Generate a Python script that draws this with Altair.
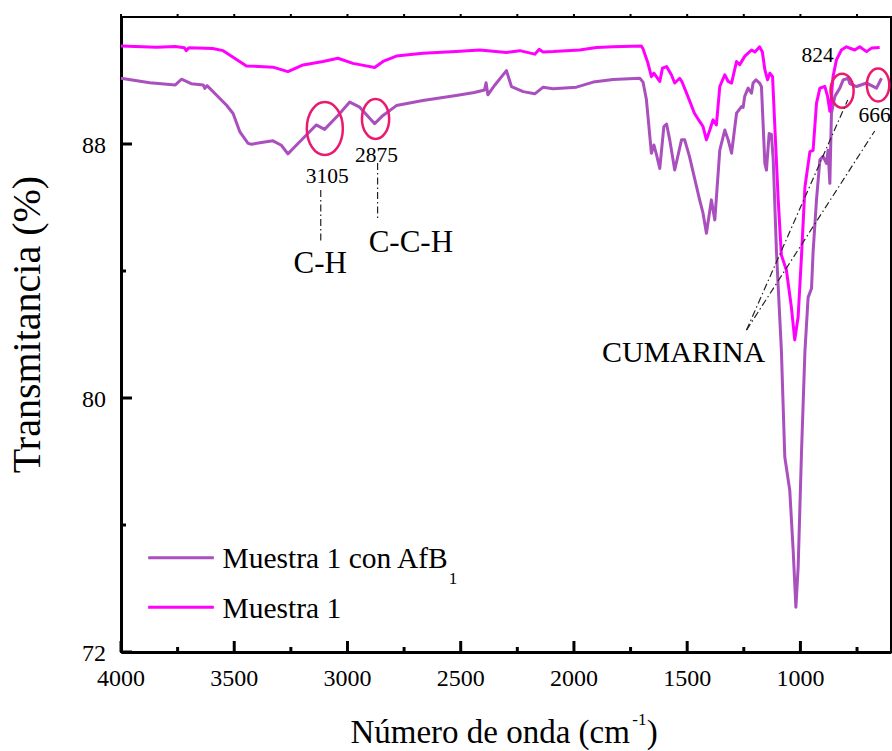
import altair as alt
import pandas as pd

SERIF = "Liberation Serif"

# ---------------- FTIR spectra ----------------
wn_afb1 = [4000, 3873, 3760, 3733, 3690, 3637, 3630, 3620, 3534, 3505, 3475, 3439, 3424,
           3380, 3329, 3292, 3263, 3226, 3138, 3101, 3042, 2990, 2946, 2880, 2843, 2784,
           2667, 2520, 2440, 2395, 2388, 2380, 2349, 2298, 2276, 2224, 2173, 2136, 2092,
           1989, 1915, 1827, 1709, 1695, 1680, 1658, 1647, 1635, 1621, 1603, 1591, 1577,
           1555, 1525, 1511, 1490, 1445, 1430, 1415, 1393, 1378, 1356, 1334, 1319, 1304,
           1282, 1260, 1253, 1246, 1231, 1216, 1209, 1196, 1180, 1172, 1157, 1150, 1138,
           1128, 1120, 1106, 1084, 1069, 1047, 1032, 1020, 1010, 995, 980, 966, 951, 944,
           929, 914, 900, 885, 878, 870, 863, 848, 826, 811, 789, 782, 752, 708, 664, 642]
tr_afb1 = [90.07, 89.93, 89.86, 90.04, 89.90, 89.86, 89.75, 89.84, 89.22, 88.96, 88.38, 88.02, 87.99,
           88.05, 88.10, 87.96, 87.69, 87.96, 88.60, 88.46, 88.90, 89.32, 89.16, 88.64, 88.90, 89.21,
           89.37, 89.53, 89.62, 89.70, 89.93, 89.55, 89.86, 90.31, 89.81, 89.65, 89.58, 89.79, 89.74,
           89.79, 89.95, 90.03, 90.07, 89.95, 89.40, 87.71, 87.97, 87.65, 87.23, 88.55, 88.63, 88.13,
           87.18, 88.13, 88.13, 87.61, 86.24, 85.82, 85.19, 86.24, 85.61, 87.81, 88.44, 88.13, 87.71,
           88.97, 89.18, 89.15, 89.50, 89.76, 89.60, 89.92, 90.02, 89.92, 89.80, 87.39, 87.18, 88.33,
           88.30, 87.50, 84.65, 81.50, 78.14, 77.09, 75.20, 73.41, 74.67, 78.33, 81.48, 83.17, 83.45, 84.60,
           86.24, 87.50, 87.61, 87.39, 87.80, 86.76, 88.97, 89.50, 89.76, 90.02, 90.07, 89.90, 89.81,
           89.92, 89.76, 90.07]

wn_m1 = [4000, 3843, 3760, 3720, 3712, 3700, 3595, 3549, 3505, 3446, 3329, 3263, 3196, 3108,
         3042, 2976, 2917, 2880, 2843, 2784, 2667, 2520, 2416, 2298, 2239, 2173, 2154, 2136,
         2092, 1975, 1900, 1827, 1703, 1695, 1673, 1658, 1647, 1621, 1609, 1591, 1570, 1555,
         1533, 1523, 1497, 1468, 1445, 1430, 1415, 1400, 1386, 1371, 1356, 1334, 1319, 1304,
         1282, 1268, 1246, 1231, 1216, 1201, 1180, 1168, 1157, 1145, 1135, 1123, 1113, 1098,
         1084, 1062, 1040, 1025, 1010, 995, 980, 958, 944, 929, 914, 892, 880, 870, 863, 856,
         841, 819, 797, 760, 738, 708, 686, 650]
tr_m1 = [91.09, 91.05, 91.07, 91.03, 90.94, 91.03, 91.01, 90.94, 90.73, 90.46, 90.42, 90.28, 90.49, 90.60,
         90.70, 90.54, 90.46, 90.41, 90.60, 90.77, 90.86, 90.91, 90.96, 90.88, 90.94, 90.83, 90.98, 90.90,
         90.91, 90.96, 91.04, 91.06, 91.09, 91.00, 90.54, 90.12, 90.23, 89.97, 90.39, 90.44, 90.18, 89.92,
         90.07, 89.96, 89.50, 88.97, 88.71, 88.55, 88.13, 88.44, 88.76, 88.60, 89.81, 90.18, 89.97, 89.92,
         90.60, 90.50, 90.76, 90.86, 90.96, 90.90, 91.06, 90.90, 90.34, 90.02, 90.23, 90.12, 88.55, 86.24,
         84.50, 84.03, 82.87, 81.83, 82.56, 84.50, 86.65, 87.76, 87.80, 89.28, 89.76, 89.81, 89.50, 89.03,
         89.50, 90.12, 90.65, 90.96, 91.06, 90.96, 91.06, 90.91, 91.02, 91.04]

series_names = ["Muestra 1 con AfB1", "Muestra 1"]
series_colors = ["#AA4FBE", "#FF00FF"]

# ---------------- axis ticks ----------------
x_major = [1000, 1500, 2000, 2500, 3000, 3500, 4000]
x_minor = [750, 1250, 1750, 2250, 2750, 3250, 3750]
y_major = [72, 80, 88]
y_minor = [76, 84]

# ---------------- annotations ----------------
ring_wn = [3100, 2876, 816, 657]
ring_t = [88.49, 88.79, 89.68, 89.86]
ring_h = [53, 40, 34, 33]

label_text = ["3105", "2875", "824", "666"]
label_wn = [3089, 2872, 924, 672]
label_t = [86.78, 87.43, 90.57, 88.70]

group_text = ["C-H", "C-C-H", "CUMARINA"]
group_wn = [3120, 2720, 1516]
group_t = [83.93, 84.61, 81.14]

lead_wn = [3118, 2867, 1238, 1238]
lead_t = [86.55, 87.40, 82.14, 82.14]
lead_wn2 = [3118, 2867, 791, 672]
lead_t2 = [84.88, 85.65, 89.39, 88.41]

legend_wn = [3880, 3590]
legend_t = [74.97, 73.41]
legend_text_wn = 3552
legend_text_t = [74.64, 73.06]

# ---------------- frames ----------------
rows = []
for name, xs, ys in zip(series_names, [wn_afb1, wn_m1], [tr_afb1, tr_m1]):
    for i, (a, b) in enumerate(zip(xs, ys)):
        rows.append({"serie": name, "wn": a, "t": b, "i": i})
spec = pd.DataFrame(rows)

x_scale = alt.Scale(domain=[600, 4000], reverse=True, nice=False, zero=False)
y_scale = alt.Scale(domain=[72, 92], nice=False, zero=False)

x_axis = alt.Axis(values=x_major, ticks=False, tickSize=0, grid=False, labels=False,
                  domain=True, domainWidth=3, domainColor="black", title=None)
y_axis = alt.Axis(values=y_major, ticks=False, tickSize=0, grid=False, labels=False,
                  domain=True, domainWidth=3, domainColor="black",
                  title="Transmitancia (%)", titleFont=SERIF, titleFontSize=40,
                  titleFontWeight="normal", titleColor="black",
                  titleAngle=-90, titleAlign="center", titleBaseline="bottom",
                  titleX=-74, titleY=307)


def X(f="wn"):
    return alt.X(f"{f}:Q", scale=x_scale, axis=x_axis)


def Y(f="t"):
    return alt.Y(f"{f}:Q", scale=y_scale, axis=y_axis)


color = alt.Color("serie:N", scale=alt.Scale(domain=series_names, range=series_colors), legend=None)

base_lines = alt.Chart(spec).mark_line(strokeWidth=3, strokeJoin="round").encode(
    x=X(), y=Y(), color=color, order="i:Q",
)
line_afb1 = base_lines.transform_filter(alt.datum.serie == series_names[0])
line_m1 = base_lines.transform_filter(alt.datum.serie == series_names[1])

# ticks drawn inward from the frame
H, W = 635, 770
ticks = []
for vals, length in ((x_major, 11), (x_minor, 5)):
    ticks.append(alt.Chart(pd.DataFrame({"wn": vals})).mark_rule(color="black", strokeWidth=3).encode(
        x=X(), y=alt.value(H), y2=alt.value(H - length)))
ticks.append(alt.Chart(pd.DataFrame({"wn": x_major + x_minor})).mark_rule(color="black", strokeWidth=2).encode(
    x=X(), y=alt.value(0), y2=alt.value(-3)))
for vals, length in ((y_major, 11), (y_minor, 5)):
    ticks.append(alt.Chart(pd.DataFrame({"t": vals})).mark_rule(color="black", strokeWidth=3).encode(
        y=Y(), x=alt.value(0), x2=alt.value(length)))

# tick labels
x_labels = alt.Chart(pd.DataFrame({"wn": x_major, "t": [72] * len(x_major),
                                   "txt": [str(v) for v in x_major]})).mark_text(
    font=SERIF, fontSize=24, align="center", baseline="alphabetic", dy=34, color="black").encode(
    x=X(), y=Y(), text="txt:N")
y_labels = alt.Chart(pd.DataFrame({"wn": [4000] * len(y_major), "t": y_major,
                                   "txt": [str(v) for v in y_major]})).mark_text(
    font=SERIF, fontSize=24, align="right", baseline="alphabetic", dx=-15, dy=8.5, color="black").encode(
    x=X(), y=Y(), text="txt:N")

# ellipse rings around the bands
ring_path = ("M 0.68 0 C 0.68 0.5523 0.3756 1 0 1 C -0.3756 1 -0.68 0.5523 -0.68 0 "
             "C -0.68 -0.5523 -0.3756 -1 0 -1 C 0.3756 -1 0.68 -0.5523 0.68 0 Z")
rings = alt.Chart(pd.DataFrame({"wn": ring_wn, "t": ring_t, "s": [h * h for h in ring_h]})).mark_point(
    shape=ring_path, filled=False, stroke="#EA1A6E", strokeWidth=2.5, opacity=1).encode(
    x=X(), y=Y(), size=alt.Size("s:Q", scale=None))

leads = alt.Chart(pd.DataFrame({"wn": lead_wn, "t": lead_t, "wn2": lead_wn2, "t2": lead_t2})).mark_rule(
    color="#222222", strokeWidth=1.2, strokeDash=[7, 3, 1.5, 3]).encode(
    x=X(), y=Y(), x2="wn2:Q", y2="t2:Q")

band_labels = alt.Chart(pd.DataFrame({"wn": label_wn, "t": label_t, "txt": label_text})).mark_text(
    font=SERIF, fontSize=21.5, align="center", baseline="alphabetic", color="black").encode(
    x=X(), y=Y(), text="txt:N")

group_labels = alt.Chart(pd.DataFrame({"wn": group_wn, "t": group_t, "txt": group_text,
                                       "fs": [31, 31, 30]})).mark_text(
    font=SERIF, align="center", baseline="alphabetic", color="black").encode(
    x=X(), y=Y(), text="txt:N", size=alt.Size("fs:Q", scale=None))

# legend
legend_rows = pd.DataFrame({"wn": [legend_wn[0]] * 2, "wn2": [legend_wn[1]] * 2, "t": legend_t,
                            "serie": series_names})
legend_lines = alt.Chart(legend_rows).mark_rule(strokeWidth=3).encode(
    x=X(), x2="wn2:Q", y=Y(), color=color)
legend_text = alt.Chart(pd.DataFrame({"wn": [legend_text_wn] * 2, "t": legend_text_t,
                                      "txt": ["Muestra 1 con AfB", "Muestra 1"]})).mark_text(
    font=SERIF, fontSize=29.5, align="left", baseline="alphabetic", color="black").encode(
    x=X(), y=Y(), text="txt:N")
legend_sub = alt.Chart(pd.DataFrame({"wn": [2553], "t": [74.15], "txt": ["1"]})).mark_text(
    font=SERIF, fontSize=17, align="left", baseline="alphabetic", color="black").encode(
    x=X(), y=Y(), text="txt:N")

# x-axis title with superscript
xt_main = alt.Chart(pd.DataFrame({"wn": [1753], "t": [69.14], "txt": ["Número de onda (cm"]})).mark_text(
    font=SERIF, fontSize=33, align="right", baseline="alphabetic", color="black").encode(
    x=X(), y=Y(), text="txt:N")
xt_sup = alt.Chart(pd.DataFrame({"wn": [1742], "t": [69.70], "txt": ["-1"]})).mark_text(
    font=SERIF, fontSize=17, align="left", baseline="alphabetic", color="black").encode(
    x=X(), y=Y(), text="txt:N")
xt_close = alt.Chart(pd.DataFrame({"wn": [1678], "t": [69.14], "txt": [")"]})).mark_text(
    font=SERIF, fontSize=33, align="left", baseline="alphabetic", color="black").encode(
    x=X(), y=Y(), text="txt:N")

chart = alt.layer(
    line_afb1, line_m1, *ticks, x_labels, y_labels, rings, leads, band_labels, group_labels,
    legend_lines, legend_text, legend_sub, xt_main, xt_sup, xt_close,
).properties(
    width=W, height=H,
    padding={"left": 121, "top": 17, "right": 1, "bottom": 99},
    autosize=alt.AutoSizeParams(type="none"),
    background="white",
).configure_view(
    stroke="black", strokeWidth=2
)

chart.save("out.html", embed_options={"renderer": "svg", "actions": False})
